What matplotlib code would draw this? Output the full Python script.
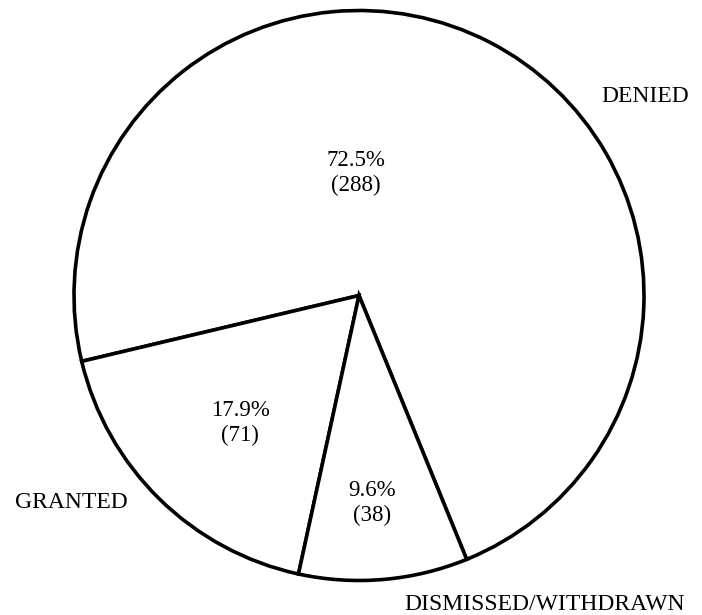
import matplotlib
matplotlib.use('Agg')
import matplotlib.pyplot as plt

plt.rcParams['font.family'] = ['Liberation Serif', 'DejaVu Serif']

# decisions by outcome
labels = ['DENIED', 'GRANTED', 'DISMISSED/WITHDRAWN']
counts = [288, 71, 38]
percents = ['72.5%', '17.9%', '9.6%']

W, H = 702, 615
fig = plt.figure(figsize=(W / 100, H / 100), dpi=100)
ax = fig.add_axes([0, 0, 1, 1])

# work in pixel units, y measured from the bottom
cx, cy, r = 359, H - 295.5, 285
wedges, _ = ax.pie(counts, startangle=-67.8, counterclock=True,
                   center=(cx, cy), radius=r,
                   wedgeprops=dict(facecolor='white', edgecolor='black',
                                   linewidth=2.6))
ax.set_xlim(0, W)
ax.set_ylim(0, H)
ax.set_aspect('equal')
ax.axis('off')

# inner labels (pixel positions from top)
inner_pos = [(356, 173), (240, 423), (372, 503)]
for (px, py), p, n in zip(inner_pos, percents, counts):
    ax.text(px, H - py, f'{p}\n({n})', ha='center', va='center',
            fontsize=16.5, linespacing=1.25)

# outer labels
outer_pos = [(645, 97), (71, 503), (545, 604)]
for (px, py), lab in zip(outer_pos, labels):
    ax.text(px, H - py, lab, ha='center', va='center', fontsize=17)

fig.savefig('out.png', dpi=100, facecolor='white')
